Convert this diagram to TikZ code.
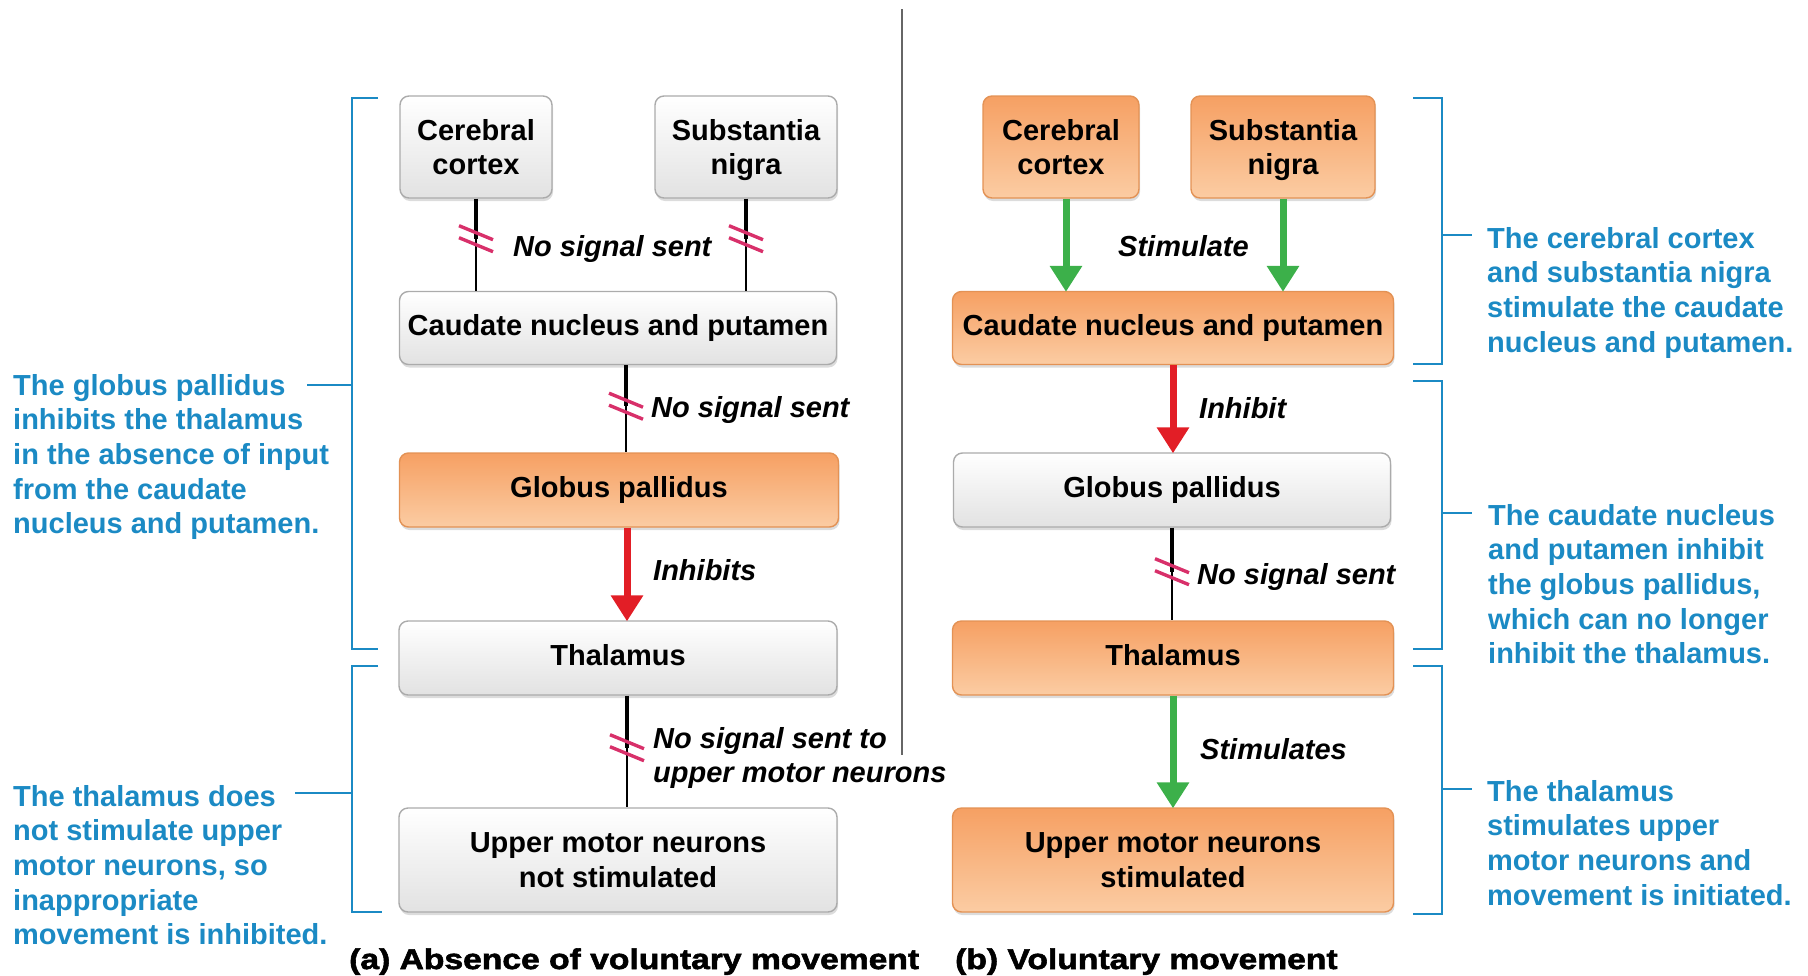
\documentclass[tikz,border=0pt]{standalone}
\usepackage{fontspec}
\setmainfont{Liberation Sans}
\newfontfamily\capfont[FakeStretch=1.18,BoldFeatures={FakeBold=2}]{Liberation Sans}
\usetikzlibrary{arrows.meta,shadows}
\definecolor{noteblue}{HTML}{1B8AC4}
\definecolor{boxgrey}{HTML}{E2E2E2}
\definecolor{boxedge}{HTML}{ABABAB}
\definecolor{orangetop}{HTML}{F6A063}
\definecolor{orangebot}{HTML}{FBCCA3}
\definecolor{orangeedge}{HTML}{E39255}
\definecolor{stimgreen}{HTML}{3CB04A}
\definecolor{inhibred}{HTML}{E21E26}
\definecolor{breakpink}{HTML}{D8306A}
\newcommand{\sigbreak}[1]{\draw[brk,shift={(#1)}] (-17,-13) -- (17,1) (-17,-1) -- (17,13);}
\begin{document}
\begin{tikzpicture}[x=1pt,y=-1pt,
box/.style={rounded corners=9pt, line width=1.4pt, inner sep=0pt, align=center,
  font=\bfseries\fontsize{29}{34.6}\selectfont,
  drop shadow={opacity=0.28,shadow xshift=1pt,shadow yshift=-3pt}},
greybox/.style={box, draw=boxedge, top color=white, bottom color=boxgrey},
orangebox/.style={box, draw=orangeedge, top color=orangetop, bottom color=orangebot},
oneline/.style={text height=21pt, text depth=6pt},
lbl/.style={anchor=west, inner sep=0pt, align=left, font=\bfseries\itshape\fontsize{29}{34.6}\selectfont},
note/.style={anchor=north west, inner sep=0pt, align=left, text=noteblue, font=\bfseries\fontsize{29}{34.6}\selectfont},
caption/.style={anchor=base west, inner sep=0pt, font=\capfont\bfseries\fontsize{28.5}{34}\selectfont},
thickline/.style={line width=4.5pt},
thinline/.style={line width=2.2pt},
brk/.style={breakpink, line width=3.4pt},
stim/.style={stimgreen, line width=7pt, -{Triangle[width=31pt,length=26pt]}, shorten >=-1pt},
inhib/.style={inhibred, line width=7pt, -{Triangle[width=31pt,length=26pt]}, shorten >=-1pt},
brace/.style={noteblue, line width=2.6pt},
divider/.style={black!60, line width=1.5pt}
]
\useasboundingbox (0,0) rectangle (1808,975);

\node[greybox, minimum width=152pt, minimum height=102pt] (a1) at (476,147) {Cerebral\\cortex};
\node[greybox, minimum width=182pt, minimum height=102pt] (a2) at (746,147) {Substantia\\\smash{nigra}};
\node[greybox, oneline, minimum width=437pt, minimum height=73pt] (a3) at (618,328) {Caudate nucleus and putamen};
\node[orangebox, oneline, minimum width=439pt, minimum height=74pt] (a4) at (619,490) {Globus pallidus};
\node[greybox, oneline, minimum width=438pt, minimum height=74pt] (a5) at (618,658) {Thalamus};
\node[greybox, minimum width=438pt, minimum height=104pt] (a6) at (618,860) {Upper motor neurons\\not stimulated};

\node[orangebox, minimum width=156pt, minimum height=102pt] (b1) at (1061,147) {Cerebral\\cortex};
\node[orangebox, minimum width=184pt, minimum height=102pt] (b2) at (1283,147) {Substantia\\\smash{nigra}};
\node[orangebox, oneline, minimum width=441pt, minimum height=73pt] (b3) at (1173,328) {Caudate nucleus and putamen};
\node[greybox, oneline, minimum width=437pt, minimum height=74pt] (b4) at (1172,490) {Globus pallidus};
\node[orangebox, oneline, minimum width=441pt, minimum height=74pt] (b5) at (1173,658) {Thalamus};
\node[orangebox, minimum width=441pt, minimum height=104pt] (b6) at (1173,860) {Upper motor neurons\\stimulated};

\coordinate (k1) at ([yshift=-40pt]a1.south);
\coordinate (k2) at ([yshift=-40pt]a2.south);
\coordinate (k3) at ([xshift=8pt,yshift=-41pt]a3.south);
\coordinate (k4) at ([xshift=9pt,yshift=-52pt]a5.south);
\coordinate (k5) at ([yshift=-44pt]b4.south);

\draw[thickline] (a1.south) -- (k1);
\draw[thinline] (k1) -- (k1 |- a3.north);
\draw[thickline] (a2.south) -- (k2);
\draw[thinline] (k2) -- (k2 |- a3.north);
\draw[thickline] (k3 |- a3.south) -- (k3);
\draw[thinline] (k3) -- (k3 |- a4.north);
\draw[inhib] ([xshift=8pt]a4.south) -- ([xshift=9pt]a5.north);
\draw[thickline] (k4 |- a5.south) -- (k4);
\draw[thinline] (k4) -- (k4 |- a6.north);
\sigbreak{k1}
\sigbreak{k2}
\sigbreak{k3}
\sigbreak{k4}

\draw[stim] ([xshift=5pt]b1.south) -- ([xshift=5pt]b1.south |- b3.north);
\draw[stim] (b2.south) -- (b2.south |- b3.north);
\draw[inhib] (b3.south) -- (b3.south |- b4.north);
\draw[thickline] (b4.south) -- (k5);
\draw[thinline] (k5) -- (k5 |- b5.north);
\sigbreak{k5}
\draw[stim] (b5.south) -- (b5.south |- b6.north);

\node[lbl] (la1) at (513,249) {No signal sent};
\node[lbl] (la2) at (651,410) {No signal sent};
\node[lbl] (la3) at (653,570) {Inhibits};
\node[lbl] (la4) at (653,758) {No signal sent to\\upper motor neurons};
\node[lbl] (lb1) at (1118,246) {Stimulate};
\node[lbl] (lb2) at (1199,408) {Inhibit};
\node[lbl] (lb3) at (1197,577) {No signal sent};
\node[lbl] (lb4) at (1200,749) {Stimulates};

\draw[divider] (902,9) -- (902,755);

\node[note] (n1) at (13,374) {The globus pallidus\\inhibits the thalamus\\in the absence of input\\from the caudate\\nucleus and putamen.};
\node[note] (n2) at (13,785) {The thalamus does\\not stimulate upper\\motor neurons, so\\inappropriate\\movement is inhibited.};
\node[note] (n3) at (1487,227) {The cerebral cortex\\and substantia nigra\\stimulate the caudate\\nucleus and putamen.};
\node[note] (n4) at (1488,504) {The caudate nucleus\\and putamen inhibit\\the globus pallidus,\\which can no longer\\inhibit the thalamus.};
\node[note] (n5) at (1487,780) {The thalamus\\stimulates upper\\motor neurons and\\movement is initiated.};

\draw[brace] (378,98) -| (352,649) -- (378,649) (352,385) -- (307,385);
\draw[brace] (378,666) -| (352,912) -- (382,912) (352,793) -- (295,793);
\draw[brace] (1413,98) -| (1442,364) -- (1413,364) (1442,235) -- (1472,235);
\draw[brace] (1413,381) -| (1442,649) -- (1413,649) (1442,513) -- (1472,513);
\draw[brace] (1413,666) -| (1442,914) -- (1413,914) (1442,789) -- (1472,789);

\node[caption] (ca) at (349,969) {(a) Absence of voluntary movement};
\node[caption] (cb) at (955,969) {(b) Voluntary movement};
\end{tikzpicture}
\end{document}
